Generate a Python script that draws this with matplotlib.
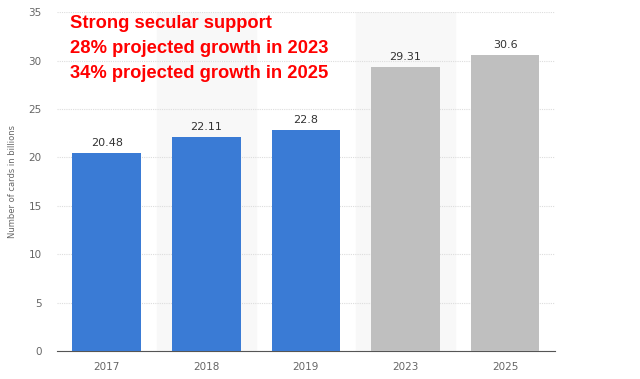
import matplotlib.pyplot as plt
import numpy as np

years = ["2017", "2018", "2019", "2023", "2025"]
cards = [20.48, 22.11, 22.8, 29.31, 30.6]
bar_colors = ["#3a7bd5", "#3a7bd5", "#3a7bd5", "#bfbfbf", "#bfbfbf"]
notes = ["Strong secular support",
         "28% projected growth in 2023",
         "34% projected growth in 2025"]

fig = plt.figure(figsize=(6.4, 3.79), dpi=100)
ax = fig.add_axes([0.089, 0.074, 0.778, 0.894])

x = np.arange(len(years))
# alternating background bands
for i in x:
    if i % 2 == 1:
        ax.axvspan(i - 0.5, i + 0.5, color="#f8f8f8", zorder=0)

ax.bar(x, cards, width=0.69, color=bar_colors, zorder=3)
for xi, v in zip(x, cards):
    ax.text(xi, v + 0.5, f"{v:g}", ha="center", va="bottom",
            fontsize=8, color="#333333", zorder=4)

ax.set_xlim(-0.5, 4.5)
ax.set_ylim(0, 35)
ax.set_yticks(range(0, 36, 5))
ax.set_xticks(x)
ax.set_xticklabels(years)
ax.yaxis.grid(True, color="#dddddd", linestyle=(0, (1, 1)), linewidth=0.8, zorder=1)
ax.set_axisbelow(True)
for s in ["top", "right", "left"]:
    ax.spines[s].set_visible(False)
ax.spines["bottom"].set_color("#555555")
ax.tick_params(axis="both", length=0, labelsize=7.5, labelcolor="#666666")
ax.tick_params(axis="x", pad=8)
ax.tick_params(axis="y", pad=11)
ax.set_ylabel("Number of cards in billions", fontsize=6, color="#666666", labelpad=8)

for k, line in enumerate(notes):
    fig.text(0.109, 0.938 - k * 0.066, line, color="#ff0000", fontsize=13.2,
             fontweight="bold", ha="left", va="center", family="Liberation Sans")

fig.savefig("out.png", dpi=100)
